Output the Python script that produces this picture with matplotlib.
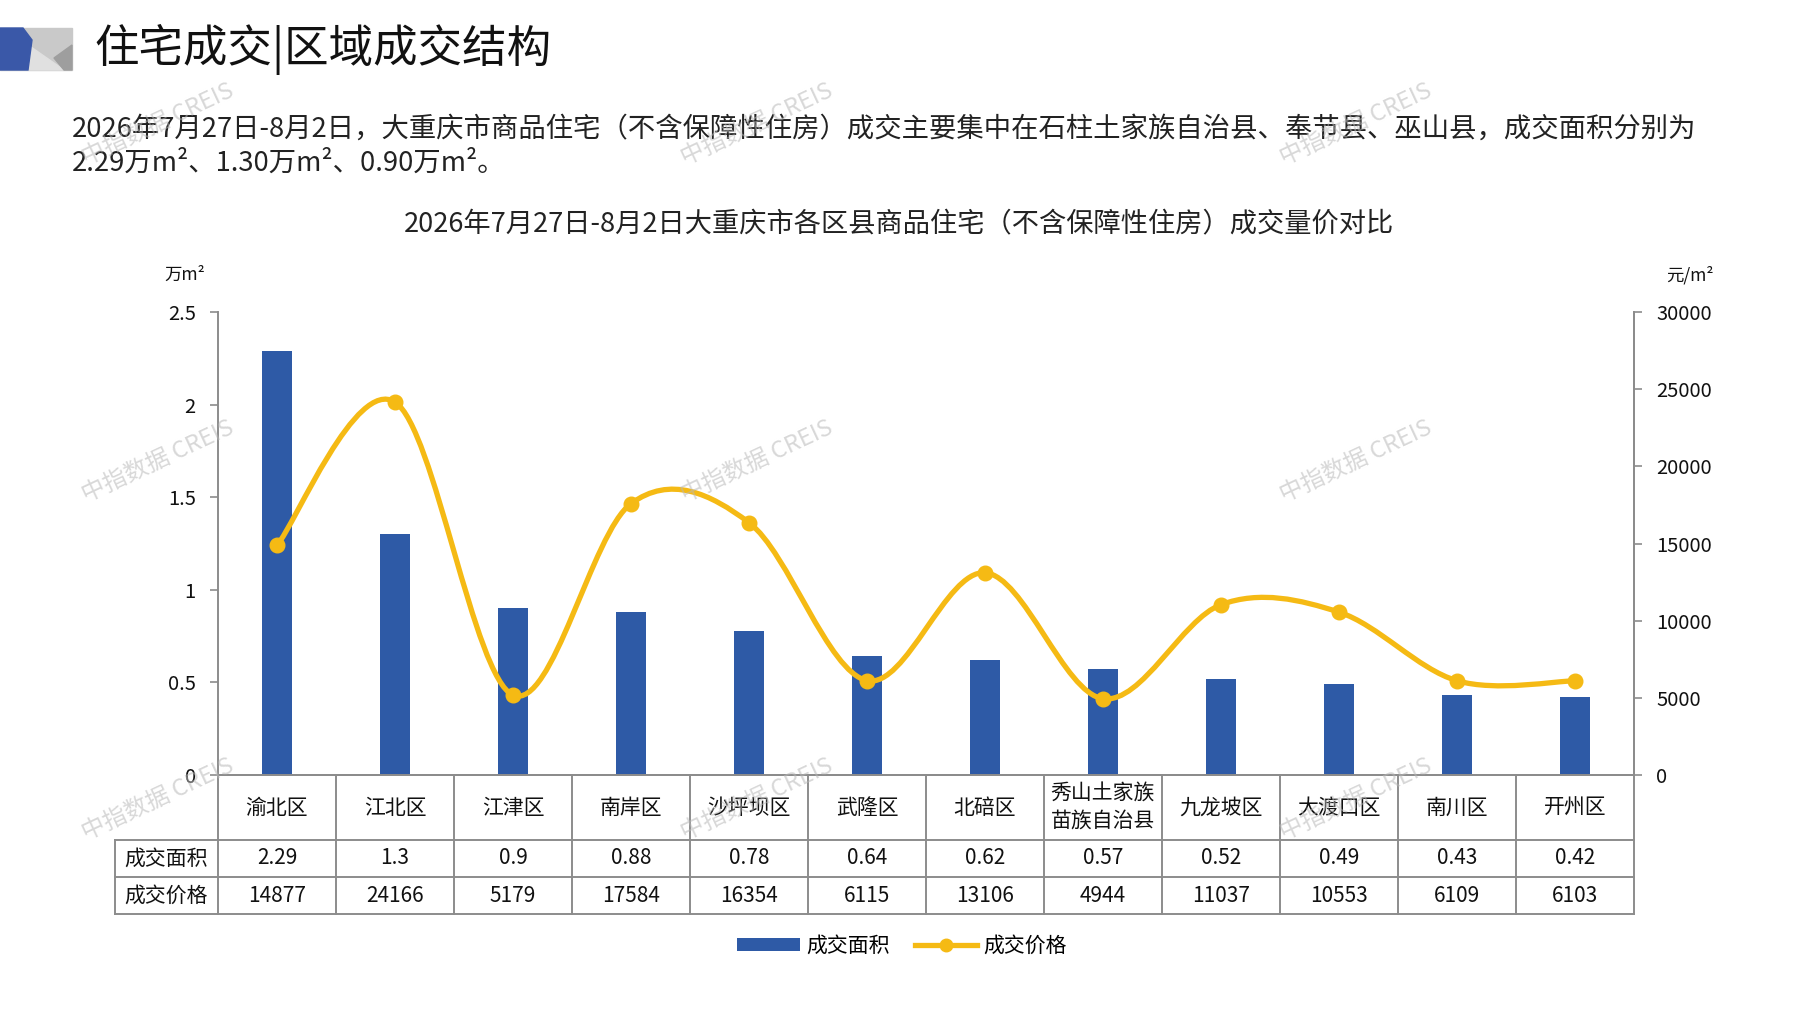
import matplotlib
matplotlib.use("Agg")
import matplotlib.pyplot as plt
from matplotlib.path import Path
from matplotlib.patches import PathPatch, Polygon, Patch
from matplotlib.lines import Line2D
import numpy as np

plt.rcParams['font.family'] = ['Noto Sans CJK SC', 'DejaVu Sans']

### Data
districts = ['渝北区', '江北区', '江津区', '南岸区', '沙坪坝区', '武隆区', '北碚区',
             '秀山土家族\n苗族自治县', '九龙坡区', '大渡口区', '南川区', '开州区']
area = [2.29, 1.3, 0.9, 0.88, 0.78, 0.64, 0.62, 0.57, 0.52, 0.49, 0.43, 0.42]
price = [14877, 24166, 5179, 17584, 16354, 6115, 13106, 4944, 11037, 10553, 6109, 6103]
area_ticks = [0, 0.5, 1, 1.5, 2, 2.5]
price_ticks = [0, 5000, 10000, 15000, 20000, 25000, 30000]

header = '住宅成交|区域成交结构'
para1 = '2026年7月27日-8月2日，大重庆市商品住宅（不含保障性住房）成交主要集中在石柱土家族自治县、奉节县、巫山县，成交面积分别为'
para2 = '2.29万m²、1.30万m²、0.90万m²。'
chart_title = '2026年7月27日-8月2日大重庆市各区县商品住宅（不含保障性住房）成交量价对比'

# colours
blue = '#2E5AA6'
yellow = '#F5BA14'
grid_gray = '#8C8C8C'

W, H = 1797, 1010
fig = plt.figure(figsize=(W / 100, H / 100), dpi=100)

def fx(px):
    return px / W

def fy(py):
    return 1 - py / H

# header decoration
deco = fig.add_axes([0, 0, 1, 1], zorder=-1)
deco.set_xlim(0, W)
deco.set_ylim(H, 0)
deco.axis('off')
deco.add_patch(Polygon([(0, 28), (72, 28), (72, 70), (0, 70)], color='#C9C9C9'))
deco.add_patch(Polygon([(28, 70), (64, 70), (31, 47)], color='#E0E0E0'))
deco.add_patch(Polygon([(54, 58), (72, 45), (72, 70), (64, 70)], color='#9E9E9E'))
deco.add_patch(Polygon([(0, 28), (23, 28), (32, 40), (28, 70), (0, 70)], color='#3A58A8'))

fig.text(fx(94), fy(49), header, fontsize=32, va='center', ha='left', color='#111111')
fig.text(fx(72), fy(129.5), para1, fontsize=19.7, va='center', ha='left', color='#222222')
fig.text(fx(72), fy(163), para2, fontsize=19.7, va='center', ha='left', color='#222222')
fig.text(fx(899), fy(225), chart_title, fontsize=19.6, va='center', ha='center', color='#222222')

# main axes
left, right, top, bottom = 218, 1634, 312, 775
ax = fig.add_axes([fx(left), fy(bottom), fx(right - left), (bottom - top) / H])
ax2 = ax.twinx()

x = np.arange(len(districts))
ax.bar(x, area, width=0.25, color=blue, zorder=2)
ax.set_xlim(-0.5, len(districts) - 0.5)
ax.set_ylim(0, 2.5)
ax.set_yticks(area_ticks)
ax.set_yticklabels([f'{t:g}' for t in area_ticks])
ax.set_xticks([])
ax2.set_ylim(0, 30000)
ax2.set_yticks(price_ticks)
ax2.set_yticklabels([str(t) for t in price_ticks])

for a in (ax, ax2):
    a.spines['top'].set_visible(False)
    for s in ('left', 'right', 'bottom'):
        a.spines[s].set_color(grid_gray)
        a.spines[s].set_linewidth(1.4)
    a.tick_params(axis='y', length=6, width=1.2, color=grid_gray, labelsize=14.5, labelcolor='#111111')
ax.tick_params(axis='y', pad=10)
ax2.tick_params(axis='y', pad=10)
ax2.spines['left'].set_visible(False)

# smoothed price line drawn as cubic bezier segments
verts = [(x[0], price[0])]
codes = [Path.MOVETO]
n = len(price)
for i in range(n - 1):
    p0 = np.array([x[max(i - 1, 0)], price[max(i - 1, 0)]], dtype=float)
    p1 = np.array([x[i], price[i]], dtype=float)
    p2 = np.array([x[i + 1], price[i + 1]], dtype=float)
    p3 = np.array([x[min(i + 2, n - 1)], price[min(i + 2, n - 1)]], dtype=float)
    c1 = p1 + (p2 - p0) / 6
    c2 = p2 - (p3 - p1) / 6
    verts += [tuple(c1), tuple(c2), tuple(p2)]
    codes += [Path.CURVE4] * 3
ax2.add_patch(PathPatch(Path(verts, codes), fill=False, edgecolor=yellow, lw=3.8,
                        capstyle='round', zorder=3))
ax2.plot(x, price, 'o', color=yellow, markersize=10.5, zorder=4, linestyle='None')

# data table under the axes
xt = ax.get_xaxis_transform()
h = bottom - top
row_y = [0, -(840 - bottom) / h, -(877 - bottom) / h, -(914 - bottom) / h]
label_x = (115 - left) / (right - left)
for k in range(len(districts) + 1):
    ax.plot([k - 0.5, k - 0.5], [0, row_y[-1]], color=grid_gray, lw=1.4,
            transform=xt, clip_on=False)
for yy in row_y[1:]:
    ax.plot([label_x, 1], [yy, yy], color=grid_gray, lw=1.4,
            transform=ax.transAxes, clip_on=False)
ax.plot([label_x, label_x], [row_y[1], row_y[-1]], color=grid_gray, lw=1.4,
        transform=ax.transAxes, clip_on=False)

for i, name in enumerate(districts):
    ax.text(i, (row_y[0] + row_y[1]) / 2, name, transform=xt, ha='center', va='center',
            fontsize=15, linespacing=1.3, color='#111111')
    ax.text(i, (row_y[1] + row_y[2]) / 2, f'{area[i]:g}', transform=xt, ha='center',
            va='center', fontsize=15, color='#111111')
    ax.text(i, (row_y[2] + row_y[3]) / 2, str(price[i]), transform=xt, ha='center',
            va='center', fontsize=15, color='#111111')
ax.text(label_x / 2, (row_y[1] + row_y[2]) / 2, '成交面积', transform=ax.transAxes,
        ha='center', va='center', fontsize=15, color='#111111')
ax.text(label_x / 2, (row_y[2] + row_y[3]) / 2, '成交价格', transform=ax.transAxes,
        ha='center', va='center', fontsize=15, color='#111111')

# unit labels
fig.text(fx(185), fy(275), '万m²', fontsize=12.5, ha='center', va='center', color='#111111')
fig.text(fx(1690), fy(275), '元/m²', fontsize=12.5, ha='center', va='center', color='#111111')

# legend
handles = [Patch(facecolor=blue, edgecolor='none'),
           Line2D([], [], color=yellow, lw=3.8, marker='o', markersize=9)]
fig.legend(handles, ['成交面积', '成交价格'], loc='center', ncol=2, frameon=False,
           bbox_to_anchor=(fx(902), fy(946)), fontsize=15, handlelength=3.0,
           handleheight=0.6, columnspacing=1.2, handletextpad=0.3)

# watermarks
for wx in (158, 757, 1356):
    for wy in (124, 461, 799):
        fig.text(fx(wx), fy(wy), '中指数据 CREIS', fontsize=17, rotation=25,
                 ha='center', va='center', color='#B8B8B8', alpha=0.55, zorder=10)

fig.savefig('out.png', dpi=100)
